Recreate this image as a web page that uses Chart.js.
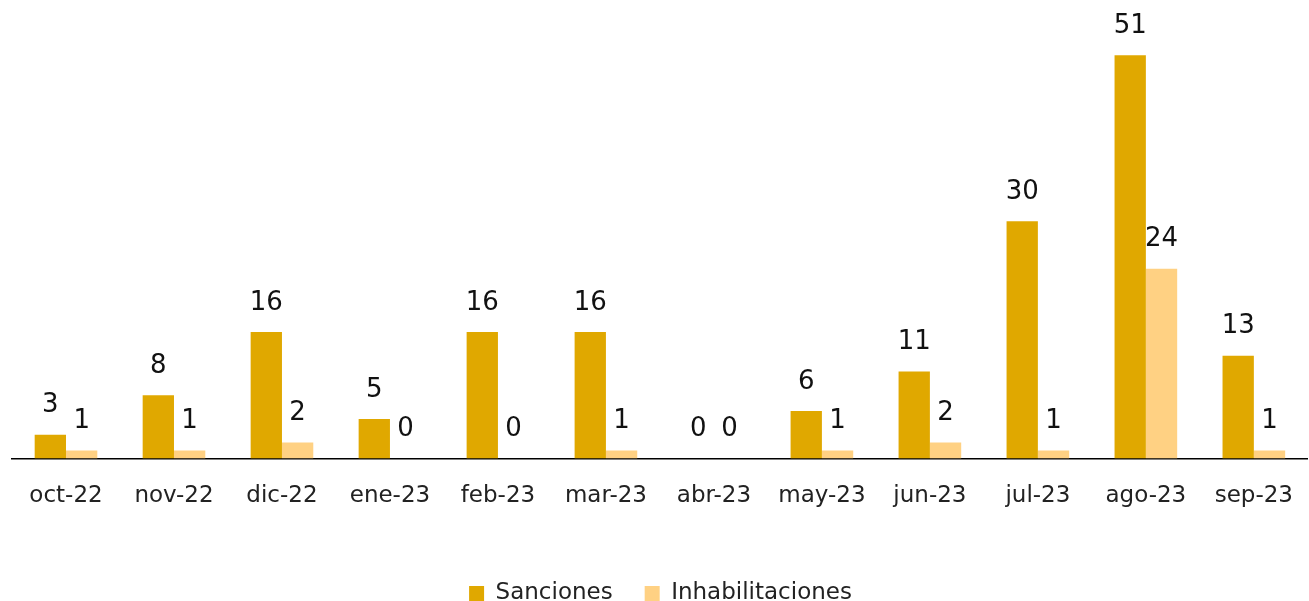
<!DOCTYPE html>
<html>
<head>
<meta charset="utf-8">
<script src="https://cdn.jsdelivr.net/npm/chart.js@4"></script>
<style>
    html, body { margin: 0; padding: 0; background: #fff; }
    #wrap { width: 1309px; height: 601px; position: relative; }
</style>
</head>
<body>
<div id="wrap"><canvas id="chart"></canvas></div>
<script>
const MONTHS = ['oct-22', 'nov-22', 'dic-22', 'ene-23', 'feb-23', 'mar-23', 'abr-23', 'may-23', 'jun-23', 'jul-23', 'ago-23', 'sep-23'];
const SANCIONES = [3, 8, 16, 5, 16, 16, 0, 6, 11, 30, 51, 13];
const INHABILITACIONES = [1, 1, 2, 0, 0, 1, 0, 1, 2, 1, 24, 1];

const FONT = "'DejaVu Sans', sans-serif";

// Value labels above each bar
const valueLabels = {
    id: 'valueLabels',
    afterDatasetsDraw(chart) {
        const ctx = chart.ctx;
        ctx.save();
        ctx.font = '26px ' + FONT;
        ctx.fillStyle = '#111';
        ctx.textAlign = 'center';
        ctx.textBaseline = 'middle';
        chart.data.datasets.forEach((ds, i) => {
            chart.getDatasetMeta(i).data.forEach((bar, j) => {
                ctx.fillText(String(ds.data[j]), bar.x, bar.y - 29);
            });
        });
        ctx.restore();
    }
};

new Chart(document.getElementById('chart'), {
    type: 'bar',
    data: {
        labels: MONTHS,
        datasets: [
            { label: 'Sanciones', data: SANCIONES, backgroundColor: '#E0A800' },
            { label: 'Inhabilitaciones', data: INHABILITACIONES, backgroundColor: '#FFD183' },
        ],
    },
    options: {
        responsive: true,
        maintainAspectRatio: false,
        animation: false,
        layout: { padding: { left: 12, right: 0, top: 0, bottom: -14 } },
        datasets: { bar: { categoryPercentage: 0.58, barPercentage: 1.0 } },
        plugins: {
            legend: {
                position: 'bottom',
                labels: {
                    font: { family: FONT, size: 23 },
                    color: '#222',
                    boxWidth: 15,
                    boxHeight: 15,
                    padding: 32,
                },
            },
            tooltip: { enabled: false },
        },
        scales: {
            x: {
                grid: { display: false },
                border: { display: true, color: '#000', width: 1.5 },
                ticks: {
                    font: { family: FONT, size: 23 },
                    color: '#222',
                    padding: 16,
                    maxRotation: 0,
                    autoSkip: false,
                },
                afterFit(scale) { scale.height += 24; },
            },
            y: {
                display: false,
                min: 0,
                max: 58,
            },
        },
    },
    plugins: [valueLabels],
});
</script>
</body>
</html>
